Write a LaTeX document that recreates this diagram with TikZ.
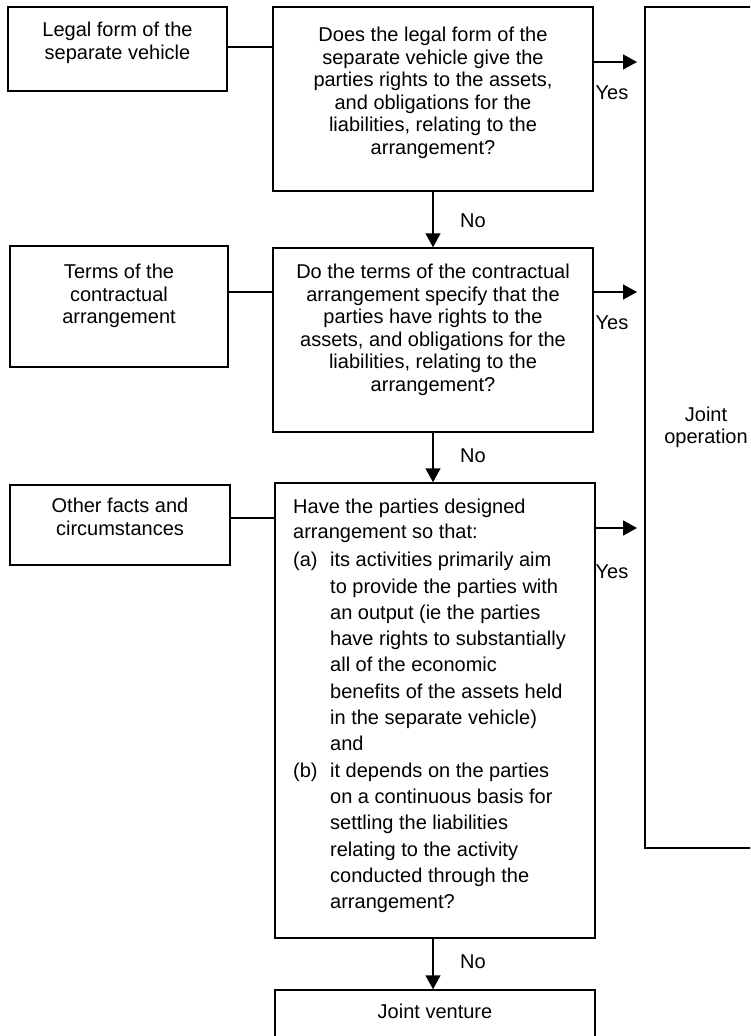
\documentclass[tikz,border=0pt]{standalone}
\usepackage{fontspec}
\setmainfont{Liberation Sans}
\usetikzlibrary{arrows.meta}
\begin{document}
\begin{tikzpicture}[x=1pt,y=-1pt,
  box/.style={draw, line width=1.5pt, rectangle, inner sep=0pt},
  txt/.style={font=\fontsize{20}{22.5}\selectfont, align=center, inner sep=0pt, anchor=north},
  lbl/.style={font=\fontsize{20}{22.5}\selectfont, inner sep=0pt},
  arr/.style={-{Triangle[length=14pt,width=15pt]}, line width=1.5pt},
  link/.style={line width=1.5pt}]
\useasboundingbox (0,0) rectangle (750,1036);
\clip (0,0) rectangle (750,1036);
% boxes
\node[box, minimum width=219pt, minimum height=84pt] (l1) at (117.5,49) {};
\node[box, minimum width=320pt, minimum height=184pt] (q1) at (433,99) {};
\node[box, minimum width=122pt, minimum height=841pt, font=\fontsize{20}{22.5}\selectfont, align=center] (op) at (706,427.5) {Joint\\operation};
\node[box, minimum width=218pt, minimum height=121pt] (l2) at (119,306.5) {};
\node[box, minimum width=320pt, minimum height=184pt] (q2) at (433,340) {};
\node[box, minimum width=220pt, minimum height=80pt] (l3) at (120,525) {};
\node[box, minimum width=320pt, minimum height=455pt] (q3) at (435,710.5) {};
\node[box, minimum width=320pt, minimum height=60pt] (jv) at (435,1020) {};
% texts
\node[txt] (tl1) at (117.5,22) {Legal form of the\\separate vehicle};
\node[txt] (tq1) at (433,27) {Does the legal form of the\\separate vehicle give the\\parties rights to the assets,\\and obligations for the\\liabilities, relating to the\\arrangement?};
\node[txt] (tl2) at (119,264) {Terms of the\\contractual\\arrangement};
\node[txt] (tq2) at (433,264) {Do the terms of the contractual\\arrangement specify that the\\parties have rights to the\\assets, and obligations for the\\liabilities, relating to the\\arrangement?};
\node[txt] (tl3) at (120,498) {Other facts and\\circumstances};
\node[txt, align=left, anchor=north west, font=\fontsize{20}{25}\selectfont] (tq3) at (293,499) {Have the parties designed\\
arrangement so that:\\[3pt]
\makebox[37pt][l]{(a)}its activities primarily aim\\[1.3pt]
\hspace*{37pt}to provide the parties with\\[1.3pt]
\hspace*{37pt}an output (ie the parties\\[1.3pt]
\hspace*{37pt}have rights to substantially\\[1.3pt]
\hspace*{37pt}all of the economic\\[1.3pt]
\hspace*{37pt}benefits of the assets held\\[1.3pt]
\hspace*{37pt}in the separate vehicle)\\[1.3pt]
\hspace*{37pt}and\\[1.3pt]
\makebox[37pt][l]{(b)}it depends on the parties\\[1.3pt]
\hspace*{37pt}on a continuous basis for\\[1.3pt]
\hspace*{37pt}settling the liabilities\\[1.3pt]
\hspace*{37pt}relating to the activity\\[1.3pt]
\hspace*{37pt}conducted through the\\[1.3pt]
\hspace*{37pt}arrangement?};
\node[txt] (tjv) at (435,1004) {Joint venture};
% connectors from input boxes
\coordinate (h1) at (0,47);
\coordinate (h2) at (0,292);
\coordinate (h3) at (0,518);
\draw[link] (l1.east |- h1) -- (q1.west |- h1);
\draw[link] (l2.east |- h2) -- (q2.west |- h2);
\draw[link] (l3.east |- h3) -- (q3.west |- h3);
% yes arrows
\coordinate (y1) at (637,62);
\coordinate (y2) at (637,292);
\coordinate (y3) at (637,528);
\draw[arr] (q1.east |- y1) -- (y1);
\draw[arr] (q2.east |- y2) -- (y2);
\draw[arr] (q3.east |- y3) -- (y3);
\node[lbl] (yes1) at (612,93) {Yes};
\node[lbl] (yes2) at (612,323) {Yes};
\node[lbl] (yes3) at (612,572) {Yes};
% no arrows
\draw[arr] (q1.south) -- (q2.north);
\draw[arr] (q2.south) -- (q2.south |- q3.north);
\draw[arr] (q3.south -| q2.south) -- (q2.south |- jv.north);
\node[lbl] (no1) at (473,221) {No};
\node[lbl] (no2) at (473,456) {No};
\node[lbl] (no3) at (473,962) {No};
\end{tikzpicture}
\end{document}
